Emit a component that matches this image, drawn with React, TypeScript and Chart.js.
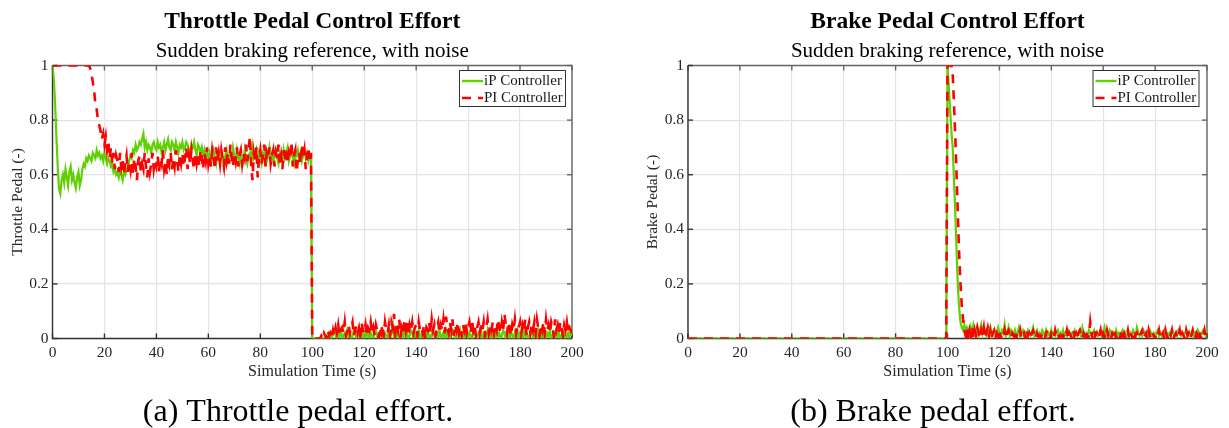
import React, { useEffect, useRef } from "react";
import { Chart, registerables } from "chart.js";

Chart.register(...registerables);

// ---------- data (sampled every 0.5 s, t = 0 … 200 s) ----------
const TIME_START_S = 0;
const TIME_STEP_S = 0.5;

const X_TICK_STEP = 20;
const X_MIN = 0;
const X_MAX = 200;
const Y_TICK_STEP = 0.2;
const Y_MIN = 0;
const Y_MAX = 1;

const SERIES_NAMES = ["iP Controller", "PI Controller"];

const THROTTLE_IP = [
  1.00, 0.95, 0.86, 0.74, 0.63, 0.55, 0.53, 0.58, 0.60, 0.57,
  0.62, 0.59, 0.56, 0.61, 0.63, 0.58, 0.60, 0.57, 0.55, 0.59,
  0.61, 0.56, 0.58, 0.62, 0.64, 0.63, 0.66, 0.65, 0.67, 0.66,
  0.65, 0.68, 0.67, 0.66, 0.69, 0.67, 0.68, 0.66, 0.67, 0.65,
  0.68, 0.66, 0.64, 0.66, 0.65, 0.63, 0.64, 0.61, 0.62, 0.60,
  0.61, 0.59, 0.62, 0.60, 0.58, 0.61, 0.60, 0.62, 0.63, 0.65,
  0.67, 0.66, 0.69, 0.68, 0.71, 0.69, 0.70, 0.72, 0.71, 0.73,
  0.75, 0.70, 0.72, 0.69, 0.71, 0.70, 0.68, 0.71, 0.72, 0.70,
  0.69, 0.72, 0.70, 0.71, 0.68, 0.70, 0.72, 0.69, 0.71, 0.73,
  0.70, 0.69, 0.72, 0.71, 0.69, 0.72, 0.70, 0.68, 0.71, 0.70,
  0.72, 0.69, 0.70, 0.72, 0.71, 0.69, 0.68, 0.71, 0.70, 0.72,
  0.69, 0.67, 0.71, 0.70, 0.68, 0.70, 0.67, 0.69, 0.66, 0.68,
  0.66, 0.68, 0.65, 0.67, 0.69, 0.66, 0.64, 0.68, 0.67, 0.65,
  0.68, 0.66, 0.63, 0.67, 0.69, 0.65, 0.67, 0.68, 0.66, 0.70,
  0.67, 0.65, 0.69, 0.66, 0.64, 0.68, 0.67, 0.65, 0.69, 0.66,
  0.64, 0.67, 0.68, 0.65, 0.70, 0.66, 0.67, 0.69, 0.65, 0.68,
  0.66, 0.64, 0.68, 0.67, 0.69, 0.65, 0.67, 0.70, 0.66, 0.68,
  0.65, 0.67, 0.69, 0.66, 0.64, 0.68, 0.67, 0.65, 0.69, 0.66,
  0.68, 0.70, 0.65, 0.67, 0.69, 0.66, 0.64, 0.68, 0.67, 0.69,
  0.66, 0.68, 0.65, 0.67, 0.69, 0.66, 0.68, 0.65, 0.67, 0.66,
  0.00, 0.00, 0.00, 0.00, 0.00, 0.00, 0.00, 0.00, 0.00, 0.00,
  0.00, 0.01, 0.00, 0.02, 0.01, 0.00, 0.02, 0.03, 0.01, 0.00,
  0.02, 0.01, 0.03, 0.00, 0.01, 0.02, 0.00, 0.03, 0.01, 0.02,
  0.00, 0.01, 0.03, 0.02, 0.00, 0.01, 0.02, 0.00, 0.03, 0.01,
  0.00, 0.02, 0.01, 0.03, 0.00, 0.02, 0.01, 0.00, 0.02, 0.03,
  0.01, 0.00, 0.02, 0.01, 0.03, 0.00, 0.02, 0.01, 0.00, 0.03,
  0.01, 0.02, 0.05, 0.00, 0.02, 0.01, 0.03, 0.00, 0.01, 0.02,
  0.00, 0.03, 0.01, 0.02, 0.00, 0.01, 0.03, 0.02, 0.00, 0.01,
  0.02, 0.00, 0.03, 0.01, 0.00, 0.02, 0.01, 0.03, 0.00, 0.02,
  0.01, 0.00, 0.02, 0.03, 0.01, 0.00, 0.02, 0.01, 0.03, 0.00,
  0.01, 0.02, 0.00, 0.03, 0.01, 0.02, 0.00, 0.01, 0.03, 0.02,
  0.00, 0.01, 0.02, 0.00, 0.03, 0.01, 0.02, 0.00, 0.01, 0.03,
  0.00, 0.02, 0.01, 0.00, 0.03, 0.02, 0.01, 0.00, 0.02, 0.01,
  0.03, 0.00, 0.01, 0.02, 0.00, 0.03, 0.01, 0.02, 0.00, 0.01,
  0.02, 0.00, 0.03, 0.01, 0.02, 0.00, 0.01, 0.03, 0.02, 0.00,
  0.01, 0.02, 0.00, 0.03, 0.01, 0.00, 0.02, 0.01, 0.03, 0.00,
  0.02, 0.01, 0.00, 0.03, 0.01, 0.02, 0.00, 0.01, 0.02, 0.03,
  0.00, 0.01, 0.02, 0.00, 0.03, 0.01, 0.02, 0.00, 0.01, 0.03,
  0.00, 0.02, 0.01, 0.03, 0.00, 0.01, 0.02, 0.00, 0.03, 0.01,
  0.02, 0.00, 0.01, 0.03, 0.02, 0.00, 0.01, 0.02, 0.00, 0.03,
  0.01,
];

const THROTTLE_PI = [
  1.00, 1.00, 1.00, 1.00, 1.00, 1.00, 1.00, 1.00, 1.00, 1.00,
  1.00, 1.00, 1.00, 1.00, 1.00, 1.00, 1.00, 1.00, 1.00, 1.00,
  1.00, 1.00, 1.00, 1.00, 1.00, 1.00, 1.00, 1.00, 1.00, 0.99,
  0.97, 0.94, 0.91, 0.86, 0.84, 0.80, 0.78, 0.76, 0.73, 0.75,
  0.71, 0.74, 0.69, 0.72, 0.66, 0.70, 0.64, 0.68, 0.62, 0.67,
  0.65, 0.61, 0.68, 0.63, 0.66, 0.60, 0.64, 0.67, 0.61, 0.65,
  0.62, 0.68, 0.60, 0.66, 0.63, 0.58, 0.65, 0.67, 0.61, 0.64,
  0.62, 0.68, 0.63, 0.59, 0.66, 0.61, 0.64, 0.68, 0.62, 0.65,
  0.63, 0.67, 0.61, 0.66, 0.64, 0.69, 0.62, 0.65, 0.60, 0.67,
  0.64, 0.68, 0.62, 0.66, 0.63, 0.69, 0.65, 0.61, 0.67, 0.64,
  0.68, 0.63, 0.66, 0.70, 0.62, 0.67, 0.64, 0.69, 0.65, 0.62,
  0.68, 0.64, 0.67, 0.63, 0.69, 0.66, 0.62, 0.68, 0.65, 0.70,
  0.64, 0.67, 0.63, 0.69, 0.66, 0.62, 0.70, 0.65, 0.68, 0.64,
  0.69, 0.66, 0.63, 0.70, 0.65, 0.68, 0.64, 0.71, 0.66, 0.63,
  0.68, 0.65, 0.70, 0.63, 0.67, 0.69, 0.64, 0.68, 0.66, 0.71,
  0.65, 0.69, 0.74, 0.63, 0.58, 0.68, 0.65, 0.70, 0.59, 0.66,
  0.69, 0.64, 0.67, 0.71, 0.63, 0.68, 0.66, 0.70, 0.64, 0.67,
  0.69, 0.63, 0.68, 0.66, 0.71, 0.64, 0.67, 0.62, 0.69, 0.65,
  0.70, 0.64, 0.68, 0.66, 0.72, 0.63, 0.67, 0.69, 0.61, 0.66,
  0.68, 0.64, 0.71, 0.66, 0.69, 0.62, 0.67, 0.70, 0.65, 0.68,
  0.00, 0.00, 0.00, 0.00, 0.00, 0.00, 0.00, 0.01, 0.00, 0.02,
  0.01, 0.00, 0.03, 0.01, 0.02, 0.00, 0.03, 0.01, 0.04, 0.02,
  0.05, 0.01, 0.03, 0.04, 0.02, 0.06, 0.01, 0.03, 0.05, 0.02,
  0.04, 0.06, 0.01, 0.03, 0.05, 0.02, 0.04, 0.01, 0.06, 0.03,
  0.02, 0.05, 0.01, 0.04, 0.03, 0.06, 0.02, 0.04, 0.01, 0.05,
  0.03, 0.00, 0.04, 0.02, 0.05, 0.01, 0.06, 0.03, 0.02, 0.05,
  0.01, 0.06, 0.04, 0.09, 0.02, 0.05, 0.03, 0.07, 0.01, 0.04,
  0.02, 0.06, 0.03, 0.07, 0.01, 0.05, 0.03, 0.06, 0.02, 0.04,
  0.05, 0.01, 0.06, 0.03, 0.04, 0.02, 0.05, 0.00, 0.04, 0.03,
  0.06, 0.02, 0.07, 0.03, 0.05, 0.01, 0.04, 0.06, 0.02, 0.05,
  0.03, 0.07, 0.02, 0.08, 0.04, 0.02, 0.06, 0.03, 0.07, 0.01,
  0.05, 0.03, 0.06, 0.02, 0.04, 0.01, 0.05, 0.03, 0.06, 0.02,
  0.04, 0.06, 0.02, 0.07, 0.03, 0.05, 0.01, 0.04, 0.06, 0.02,
  0.05, 0.03, 0.06, 0.01, 0.04, 0.07, 0.02, 0.05, 0.03, 0.06,
  0.02, 0.05, 0.03, 0.07, 0.04, 0.02, 0.06, 0.03, 0.09, 0.05,
  0.02, 0.06, 0.04, 0.01, 0.05, 0.03, 0.07, 0.02, 0.05, 0.04,
  0.06, 0.02, 0.05, 0.03, 0.07, 0.01, 0.04, 0.06, 0.02, 0.05,
  0.03, 0.06, 0.02, 0.07, 0.04, 0.01, 0.05, 0.03, 0.06, 0.02,
  0.07, 0.03, 0.05, 0.02, 0.06, 0.04, 0.01, 0.07, 0.03, 0.05,
  0.02, 0.06, 0.04, 0.01, 0.05, 0.03, 0.06, 0.02, 0.04, 0.03,
  0.02,
];

const BRAKE_IP = [
  0, 0, 0, 0, 0, 0, 0, 0, 0, 0,
  0, 0, 0, 0, 0, 0, 0, 0, 0, 0,
  0, 0, 0, 0, 0, 0, 0, 0, 0, 0,
  0, 0, 0, 0, 0, 0, 0, 0, 0, 0,
  0, 0, 0, 0, 0, 0, 0, 0, 0, 0,
  0, 0, 0, 0, 0, 0, 0, 0, 0, 0,
  0, 0, 0, 0, 0, 0, 0, 0, 0, 0,
  0, 0, 0, 0, 0, 0, 0, 0, 0, 0,
  0, 0, 0, 0, 0, 0, 0, 0, 0, 0,
  0, 0, 0, 0, 0, 0, 0, 0, 0, 0,
  0, 0, 0, 0, 0, 0, 0, 0, 0, 0,
  0, 0, 0, 0, 0, 0, 0, 0, 0, 0,
  0, 0, 0, 0, 0, 0, 0, 0, 0, 0,
  0, 0, 0, 0, 0, 0, 0, 0, 0, 0,
  0, 0, 0, 0, 0, 0, 0, 0, 0, 0,
  0, 0, 0, 0, 0, 0, 0, 0, 0, 0,
  0, 0, 0, 0, 0, 0, 0, 0, 0, 0,
  0, 0, 0, 0, 0, 0, 0, 0, 0, 0,
  0, 0, 0, 0, 0, 0, 0, 0, 0, 0,
  0, 0, 0, 0, 0, 0, 0, 0, 0, 0,
  1.00, 0.92, 0.84, 0.76, 0.70, 0.58, 0.46, 0.32, 0.19, 0.11,
  0.06, 0.04, 0.03, 0.05, 0.02, 0.04, 0.03, 0.01, 0.04, 0.02,
  0.05, 0.03, 0.02, 0.04, 0.01, 0.03, 0.05, 0.02, 0.04, 0.03,
  0.01, 0.03, 0.02, 0.04, 0.01, 0.02, 0.03, 0.01, 0.02, 0.04,
  0.02, 0.01, 0.03, 0.02, 0.05, 0.01, 0.02, 0.04, 0.01, 0.03,
  0.02, 0.01, 0.03, 0.01, 0.02, 0.04, 0.01, 0.02, 0.03, 0.01,
  0.02, 0.01, 0.03, 0.02, 0.01, 0.02, 0.04, 0.01, 0.02, 0.03,
  0.01, 0.02, 0.01, 0.03, 0.02, 0.01, 0.03, 0.01, 0.02, 0.01,
  0.03, 0.01, 0.02, 0.01, 0.02, 0.03, 0.01, 0.02, 0.01, 0.03,
  0.01, 0.02, 0.01, 0.03, 0.02, 0.01, 0.02, 0.01, 0.03, 0.02,
  0.01, 0.02, 0.03, 0.01, 0.04, 0.02, 0.01, 0.02, 0.01, 0.03,
  0.02, 0.01, 0.02, 0.03, 0.01, 0.02, 0.01, 0.02, 0.03, 0.01,
  0.02, 0.04, 0.01, 0.02, 0.01, 0.03, 0.02, 0.01, 0.02, 0.01,
  0.03, 0.01, 0.02, 0.01, 0.02, 0.03, 0.01, 0.02, 0.01, 0.02,
  0.01, 0.02, 0.01, 0.03, 0.02, 0.01, 0.04, 0.02, 0.01, 0.02,
  0.01, 0.03, 0.02, 0.01, 0.02, 0.01, 0.03, 0.02, 0.01, 0.02,
  0.01, 0.02, 0.03, 0.01, 0.02, 0.01, 0.02, 0.03, 0.01, 0.02,
  0.01, 0.02, 0.01, 0.03, 0.02, 0.01, 0.02, 0.01, 0.03, 0.02,
  0.01, 0.02, 0.01, 0.02, 0.03, 0.01, 0.02, 0.01, 0.02, 0.03,
  0.01, 0.02, 0.01, 0.03, 0.02, 0.01, 0.02, 0.03, 0.02, 0.01,
  0.04,
];

const BRAKE_PI = [
  0, 0, 0, 0, 0, 0, 0, 0, 0, 0,
  0, 0, 0, 0, 0, 0, 0, 0, 0, 0,
  0, 0, 0, 0, 0, 0, 0, 0, 0, 0,
  0, 0, 0, 0, 0, 0, 0, 0, 0, 0,
  0, 0, 0, 0, 0, 0, 0, 0, 0, 0,
  0, 0, 0, 0, 0, 0, 0, 0, 0, 0,
  0, 0, 0, 0, 0, 0, 0, 0, 0, 0,
  0, 0, 0, 0, 0, 0, 0, 0, 0, 0,
  0, 0, 0, 0, 0, 0, 0, 0, 0, 0,
  0, 0, 0, 0, 0, 0, 0, 0, 0, 0,
  0, 0, 0, 0, 0, 0, 0, 0, 0, 0,
  0, 0, 0, 0, 0, 0, 0, 0, 0, 0,
  0, 0, 0, 0, 0, 0, 0, 0, 0, 0,
  0, 0, 0, 0, 0, 0, 0, 0, 0, 0,
  0, 0, 0, 0, 0, 0, 0, 0, 0, 0,
  0, 0, 0, 0, 0, 0, 0, 0, 0, 0,
  0, 0, 0, 0, 0, 0, 0, 0, 0, 0,
  0, 0, 0, 0, 0, 0, 0, 0, 0, 0,
  0, 0, 0, 0, 0, 0, 0, 0, 0, 0,
  0, 0, 0, 0, 0, 0, 0, 0, 0, 0,
  1.00, 1.00, 1.00, 1.00, 0.97, 0.86, 0.74, 0.60, 0.45, 0.31,
  0.20, 0.12, 0.07, 0.03, 0.01, 0.04, 0.00, 0.03, 0.01, 0.04,
  0.00, 0.03, 0.01, 0.04, 0.02, 0.00, 0.03, 0.01, 0.04, 0.00,
  0.02, 0.04, 0.01, 0.03, 0.00, 0.02, 0.03, 0.00, 0.02, 0.01,
  0.03, 0.00, 0.02, 0.01, 0.03, 0.00, 0.02, 0.03, 0.01, 0.00,
  0.02, 0.01, 0.03, 0.00, 0.02, 0.01, 0.03, 0.00, 0.01, 0.02,
  0.00, 0.03, 0.01, 0.02, 0.00, 0.02, 0.03, 0.01, 0.00, 0.02,
  0.01, 0.03, 0.00, 0.02, 0.01, 0.00, 0.02, 0.03, 0.01, 0.00,
  0.02, 0.01, 0.00, 0.03, 0.01, 0.02, 0.00, 0.01, 0.03, 0.00,
  0.02, 0.01, 0.03, 0.00, 0.02, 0.01, 0.00, 0.03, 0.01, 0.02,
  0.00, 0.02, 0.03, 0.01, 0.00, 0.02, 0.01, 0.03, 0.00, 0.01,
  0.06, 0.02, 0.00, 0.03, 0.01, 0.02, 0.00, 0.01, 0.03, 0.00,
  0.02, 0.01, 0.00, 0.03, 0.01, 0.02, 0.00, 0.02, 0.01, 0.03,
  0.00, 0.01, 0.02, 0.00, 0.03, 0.01, 0.02, 0.00, 0.01, 0.03,
  0.00, 0.02, 0.01, 0.00, 0.03, 0.01, 0.02, 0.00, 0.01, 0.02,
  0.03, 0.00, 0.01, 0.02, 0.00, 0.03, 0.01, 0.00, 0.02, 0.01,
  0.00, 0.02, 0.01, 0.03, 0.00, 0.01, 0.02, 0.00, 0.03, 0.01,
  0.00, 0.02, 0.01, 0.03, 0.00, 0.01, 0.02, 0.00, 0.01, 0.03,
  0.00, 0.02, 0.01, 0.00, 0.03, 0.01, 0.02, 0.00, 0.01, 0.03,
  0.01, 0.00, 0.02, 0.01, 0.03, 0.00, 0.02, 0.01, 0.03, 0.00,
  0.02,
];

// ---------- styling ----------
const FONT = "'Liberation Serif', 'Times New Roman', serif";
const GREEN = "#5fd000";
const RED = "#ff0000";
const AXIS_DARK = "#333333";
const AXIS_LIGHT = "#666666";
const GRID = "#e3e3e3";
const TEXT = "#262626";
const RED_DASH = [9, 7];

function toPoints(values: number[]) {
  return values.map((v, i) => ({ x: TIME_START_S + i * TIME_STEP_S, y: v }));
}

const framePlugin = {
  id: "matlabFrame",
  beforeDatasetsDraw(chart: any) {
    const { ctx, chartArea: a, scales } = chart;
    const tickLen = 5;
    ctx.save();
    ctx.lineWidth = 1.4;
    ctx.strokeStyle = AXIS_LIGHT;
    ctx.beginPath();
    ctx.moveTo(a.left, a.top);
    ctx.lineTo(a.right, a.top);
    ctx.lineTo(a.right, a.bottom);
    ctx.stroke();
    scales.x.ticks.forEach((t: any) => {
      const px = scales.x.getPixelForValue(t.value);
      ctx.beginPath();
      ctx.moveTo(px, a.top);
      ctx.lineTo(px, a.top + tickLen);
      ctx.stroke();
    });
    scales.y.ticks.forEach((t: any) => {
      const py = scales.y.getPixelForValue(t.value);
      ctx.beginPath();
      ctx.moveTo(a.right, py);
      ctx.lineTo(a.right - tickLen, py);
      ctx.stroke();
    });
    ctx.strokeStyle = AXIS_DARK;
    ctx.beginPath();
    ctx.moveTo(a.left, a.top);
    ctx.lineTo(a.left, a.bottom);
    ctx.lineTo(a.right, a.bottom);
    ctx.stroke();
    scales.x.ticks.forEach((t: any) => {
      const px = scales.x.getPixelForValue(t.value);
      ctx.beginPath();
      ctx.moveTo(px, a.bottom);
      ctx.lineTo(px, a.bottom - tickLen);
      ctx.stroke();
    });
    scales.y.ticks.forEach((t: any) => {
      const py = scales.y.getPixelForValue(t.value);
      ctx.beginPath();
      ctx.moveTo(a.left, py);
      ctx.lineTo(a.left + tickLen, py);
      ctx.stroke();
    });
    ctx.restore();
  },
};

function makeTextPlugin(title: string, subtitle: string, caption: string, captionX: number, legendRightGap: number) {
  return {
    id: "figureText",
    afterDraw(chart: any) {
      const { ctx, chartArea: a } = chart;
      const cx = (a.left + a.right) / 2;
      ctx.save();
      ctx.fillStyle = "#000";
      ctx.textAlign = "center";
      ctx.textBaseline = "alphabetic";
      ctx.font = `bold 23.5px ${FONT}`;
      ctx.fillText(title, cx, 28);
      ctx.font = `21px ${FONT}`;
      ctx.fillText(subtitle, cx, 57);
      ctx.font = `32px ${FONT}`;
      ctx.fillText(caption, captionX, 421);

      // legend
      const w = 107;
      const h = 37;
      const left = a.right - legendRightGap - w;
      const top = a.top + 4.5;
      ctx.fillStyle = "#fff";
      ctx.fillRect(left, top, w, h);
      ctx.strokeStyle = "#333";
      ctx.lineWidth = 1;
      ctx.strokeRect(left + 0.5, top + 0.5, w - 1, h - 1);
      const rows = [
        { y: top + 11, color: GREEN, dash: [] as number[], label: SERIES_NAMES[0] },
        { y: top + 28, color: RED, dash: RED_DASH, label: SERIES_NAMES[1] },
      ];
      rows.forEach((r) => {
        ctx.strokeStyle = r.color;
        ctx.lineWidth = 2.4;
        ctx.setLineDash(r.dash);
        ctx.beginPath();
        ctx.moveTo(left + 3, r.y);
        ctx.lineTo(left + 24, r.y);
        ctx.stroke();
        ctx.setLineDash([]);
        ctx.fillStyle = "#1a1a1a";
        ctx.font = `15px ${FONT}`;
        ctx.textAlign = "left";
        ctx.textBaseline = "middle";
        ctx.fillText(r.label, left + 25, r.y + 0.5);
      });
      ctx.restore();
    },
  };
}

type PanelProps = {
  left: number;
  width: number;
  yAxisWidth: number;
  padRight: number;
  yTitlePad: number;
  title: string;
  subtitle: string;
  yLabel: string;
  caption: string;
  captionX: number;
  legendGap: number;
  ip: number[];
  pi: number[];
};

function Panel(p: PanelProps) {
  const ref = useRef<HTMLCanvasElement | null>(null);
  useEffect(() => {
    if (!ref.current) return;
    const tickFont = { family: FONT, size: 15.5 };
    const chart = new Chart(ref.current, {
      type: "line",
      data: {
        datasets: [
          {
            label: SERIES_NAMES[1],
            data: toPoints(p.pi),
            borderColor: RED,
            borderWidth: 2.6,
            borderDash: RED_DASH,
            pointRadius: 0,
            tension: 0,
            fill: false,
          },
          {
            label: SERIES_NAMES[0],
            data: toPoints(p.ip),
            borderColor: GREEN,
            borderWidth: 2.2,
            pointRadius: 0,
            tension: 0,
            fill: false,
          },
        ],
      },
      options: {
        animation: false,
        responsive: false,
        maintainAspectRatio: false,
        layout: { padding: { left: 0, right: p.padRight, top: 65.5, bottom: 44.5 } },
        plugins: {
          legend: { display: false },
          tooltip: { enabled: false },
          title: { display: false },
        },
        scales: {
          x: {
            type: "linear",
            min: X_MIN,
            max: X_MAX,
            ticks: { stepSize: X_TICK_STEP, font: tickFont, color: TEXT, padding: 5, maxRotation: 0, autoSkip: false },
            grid: { color: GRID, lineWidth: 1.2, drawTicks: false },
            border: { display: false },
            title: {
              display: true,
              text: "Simulation Time (s)",
              font: { family: FONT, size: 16 },
              color: TEXT,
              padding: { top: 0, bottom: 2 },
            },
            afterFit: (s: any) => {
              s.height = 45;
            },
          },
          y: {
            type: "linear",
            min: Y_MIN,
            max: Y_MAX,
            ticks: {
              stepSize: Y_TICK_STEP,
              font: tickFont,
              color: TEXT,
              padding: 4,
              callback: (v: any) => String(Number(Number(v).toFixed(1))),
            },
            grid: { color: GRID, lineWidth: 1.2, drawTicks: false },
            border: { display: false },
            title: {
              display: true,
              text: p.yLabel,
              font: { family: FONT, size: 15.5 },
              color: TEXT,
              padding: { top: p.yTitlePad, bottom: 0 },
            },
            afterFit: (s: any) => {
              s.width = p.yAxisWidth;
            },
          },
        },
      } as any,
      plugins: [framePlugin, makeTextPlugin(p.title, p.subtitle, p.caption, p.captionX, p.legendGap)],
    });
    return () => chart.destroy();
  }, []);
  return (
    <canvas
      ref={ref}
      width={p.width}
      height={428}
      style={{ position: "absolute", left: p.left, top: 0, width: p.width, height: 428, display: "block" }}
    />
  );
}

export default function App() {
  return (
    <div style={{ position: "absolute", left: 0, top: 0, width: 1229, height: 428, background: "#fff" }}>
      <Panel
        left={0}
        width={614}
        yAxisWidth={52.5}
        padRight={42}
        yTitlePad={8.5}
        title="Throttle Pedal Control Effort"
        subtitle="Sudden braking reference, with noise"
        yLabel="Throttle Pedal (-)"
        caption="(a) Throttle pedal effort."
        captionX={298}
        legendGap={6}
        ip={THROTTLE_IP}
        pi={THROTTLE_PI}
      />
      <Panel
        left={614}
        width={615}
        yAxisWidth={74}
        padRight={22}
        yTitlePad={29.5}
        title="Brake Pedal Control Effort"
        subtitle="Sudden braking reference, with noise"
        yLabel="Brake Pedal (-)"
        caption="(b) Brake pedal effort."
        captionX={319}
        legendGap={7.5}
        ip={BRAKE_IP}
        pi={BRAKE_PI}
      />
    </div>
  );
}
